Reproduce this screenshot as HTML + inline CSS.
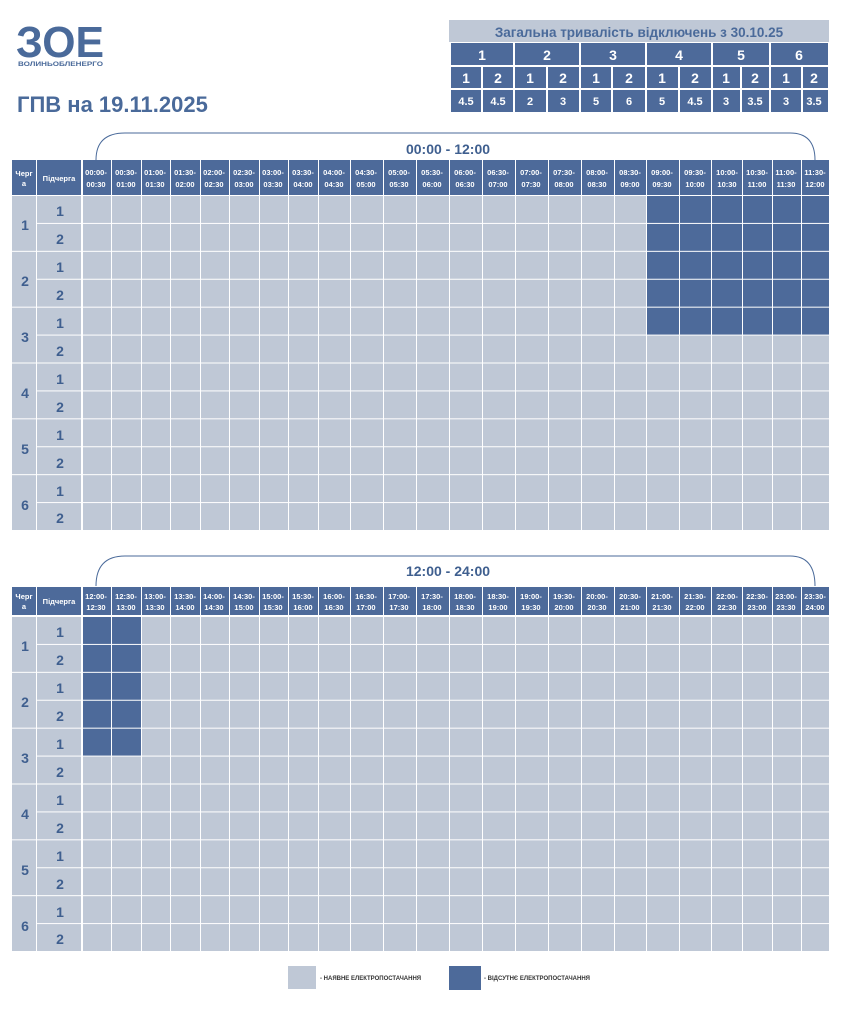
<!DOCTYPE html>
<html><head><meta charset="utf-8"><style>
html,body{margin:0;padding:0;background:#fff;width:842px;height:1024px;overflow:hidden}
svg{display:block;font-family:"Liberation Sans",sans-serif}
.h{fill:#fff;font-size:7.5px;font-weight:bold;text-anchor:middle}
.n{fill:#3f5f8f;font-size:14px;font-weight:bold;text-anchor:middle}
.s{fill:#fff;font-size:14px;font-weight:bold;text-anchor:middle}
.v{fill:#fff;font-size:11px;font-weight:bold;text-anchor:middle}
</style></head><body>
<svg id="s" width="842" height="1024" viewBox="0 0 842 1024">
<g id="r"></g>
<text x="16" y="57" font-size="44" font-weight="bold" fill="#4a6a9a" textLength="88" lengthAdjust="spacingAndGlyphs">ЗОЕ</text>
<text x="18" y="66" font-size="6" font-weight="bold" fill="#4a6a9a" textLength="85" lengthAdjust="spacingAndGlyphs">ВОЛИНЬОБЛЕНЕРГО</text>
<text x="17" y="112" font-size="22" font-weight="bold" fill="#4a6a9a">ГПВ на 19.11.2025</text>
<text x="639" y="37" font-size="13.5" font-weight="bold" fill="#4a6a9a" text-anchor="middle">Загальна тривалість відключень з 30.10.25</text>
<text class="s" x="482" y="60">1</text><text class="s" x="547" y="60">2</text><text class="s" x="613" y="60">3</text><text class="s" x="679" y="60">4</text><text class="s" x="741" y="60">5</text><text class="s" x="799" y="60">6</text>
<text class="s" x="466" y="83">1</text><text class="s" x="498" y="83">2</text><text class="s" x="530" y="83">1</text><text class="s" x="563" y="83">2</text><text class="s" x="596" y="83">1</text><text class="s" x="629" y="83">2</text><text class="s" x="662" y="83">1</text><text class="s" x="695" y="83">2</text><text class="s" x="726" y="83">1</text><text class="s" x="755" y="83">2</text><text class="s" x="786" y="83">1</text><text class="s" x="814" y="83">2</text>
<text class="v" x="466" y="105">4.5</text><text class="v" x="498" y="105">4.5</text><text class="v" x="530" y="105">2</text><text class="v" x="563" y="105">3</text><text class="v" x="596" y="105">5</text><text class="v" x="629" y="105">6</text><text class="v" x="662" y="105">5</text><text class="v" x="695" y="105">4.5</text><text class="v" x="726" y="105">3</text><text class="v" x="755" y="105">3.5</text><text class="v" x="786" y="105">3</text><text class="v" x="814" y="105">3.5</text>
<path d="M96 160 Q96 133 125 133 L790 133 Q815 133 815 160" fill="none" stroke="#4a6a9a" stroke-width="1"/>
<text x="448" y="154" font-size="14" font-weight="bold" fill="#3f5f8f" text-anchor="middle">00:00 - 12:00</text>
<path d="M96 586 Q96 556 125 556 L790 556 Q815 556 815 586" fill="none" stroke="#4a6a9a" stroke-width="1"/>
<text x="448" y="576" font-size="14" font-weight="bold" fill="#3f5f8f" text-anchor="middle">12:00 - 24:00</text>
<text class="h" x="24" y="176">Черг</text><text class="h" x="24" y="186">а</text>
<text class="h" x="59" y="181">Підчерга</text>
<g id="h1">
<text class="h" x="96" y="175">00:00-</text><text class="h" x="96" y="187">00:30</text>
<text class="h" x="126" y="175">00:30-</text><text class="h" x="126" y="187">01:00</text>
<text class="h" x="155" y="175">01:00-</text><text class="h" x="155" y="187">01:30</text>
<text class="h" x="185" y="175">01:30-</text><text class="h" x="185" y="187">02:00</text>
<text class="h" x="214" y="175">02:00-</text><text class="h" x="214" y="187">02:30</text>
<text class="h" x="244" y="175">02:30-</text><text class="h" x="244" y="187">03:00</text>
<text class="h" x="273" y="175">03:00-</text><text class="h" x="273" y="187">03:30</text>
<text class="h" x="303" y="175">03:30-</text><text class="h" x="303" y="187">04:00</text>
<text class="h" x="334" y="175">04:00-</text><text class="h" x="334" y="187">04:30</text>
<text class="h" x="366" y="175">04:30-</text><text class="h" x="366" y="187">05:00</text>
<text class="h" x="399" y="175">05:00-</text><text class="h" x="399" y="187">05:30</text>
<text class="h" x="432" y="175">05:30-</text><text class="h" x="432" y="187">06:00</text>
<text class="h" x="465" y="175">06:00-</text><text class="h" x="465" y="187">06:30</text>
<text class="h" x="498" y="175">06:30-</text><text class="h" x="498" y="187">07:00</text>
<text class="h" x="531" y="175">07:00-</text><text class="h" x="531" y="187">07:30</text>
<text class="h" x="564" y="175">07:30-</text><text class="h" x="564" y="187">08:00</text>
<text class="h" x="597" y="175">08:00-</text><text class="h" x="597" y="187">08:30</text>
<text class="h" x="630" y="175">08:30-</text><text class="h" x="630" y="187">09:00</text>
<text class="h" x="662" y="175">09:00-</text><text class="h" x="662" y="187">09:30</text>
<text class="h" x="695" y="175">09:30-</text><text class="h" x="695" y="187">10:00</text>
<text class="h" x="727" y="175">10:00-</text><text class="h" x="727" y="187">10:30</text>
<text class="h" x="757" y="175">10:30-</text><text class="h" x="757" y="187">11:00</text>
<text class="h" x="786" y="175">11:00-</text><text class="h" x="786" y="187">11:30</text>
<text class="h" x="815" y="175">11:30-</text><text class="h" x="815" y="187">12:00</text>
</g>
<text class="h" x="24" y="599">Черг</text><text class="h" x="24" y="609">а</text>
<text class="h" x="59" y="604">Підчерга</text>
<text class="h" x="96" y="599">12:00-</text><text class="h" x="96" y="610">12:30</text>
<text class="h" x="126" y="599">12:30-</text><text class="h" x="126" y="610">13:00</text>
<text class="h" x="155" y="599">13:00-</text><text class="h" x="155" y="610">13:30</text>
<text class="h" x="185" y="599">13:30-</text><text class="h" x="185" y="610">14:00</text>
<text class="h" x="214" y="599">14:00-</text><text class="h" x="214" y="610">14:30</text>
<text class="h" x="244" y="599">14:30-</text><text class="h" x="244" y="610">15:00</text>
<text class="h" x="273" y="599">15:00-</text><text class="h" x="273" y="610">15:30</text>
<text class="h" x="303" y="599">15:30-</text><text class="h" x="303" y="610">16:00</text>
<text class="h" x="334" y="599">16:00-</text><text class="h" x="334" y="610">16:30</text>
<text class="h" x="366" y="599">16:30-</text><text class="h" x="366" y="610">17:00</text>
<text class="h" x="399" y="599">17:00-</text><text class="h" x="399" y="610">17:30</text>
<text class="h" x="432" y="599">17:30-</text><text class="h" x="432" y="610">18:00</text>
<text class="h" x="465" y="599">18:00-</text><text class="h" x="465" y="610">18:30</text>
<text class="h" x="498" y="599">18:30-</text><text class="h" x="498" y="610">19:00</text>
<text class="h" x="531" y="599">19:00-</text><text class="h" x="531" y="610">19:30</text>
<text class="h" x="564" y="599">19:30-</text><text class="h" x="564" y="610">20:00</text>
<text class="h" x="597" y="599">20:00-</text><text class="h" x="597" y="610">20:30</text>
<text class="h" x="630" y="599">20:30-</text><text class="h" x="630" y="610">21:00</text>
<text class="h" x="662" y="599">21:00-</text><text class="h" x="662" y="610">21:30</text>
<text class="h" x="695" y="599">21:30-</text><text class="h" x="695" y="610">22:00</text>
<text class="h" x="727" y="599">22:00-</text><text class="h" x="727" y="610">22:30</text>
<text class="h" x="757" y="599">22:30-</text><text class="h" x="757" y="610">23:00</text>
<text class="h" x="786" y="599">23:00-</text><text class="h" x="786" y="610">23:30</text>
<text class="h" x="815" y="599">23:30-</text><text class="h" x="815" y="610">24:00</text>
<text class="n" x="25" y="230">1</text><text class="n" x="25" y="286">2</text><text class="n" x="25" y="342">3</text><text class="n" x="25" y="398">4</text><text class="n" x="25" y="454">5</text><text class="n" x="25" y="510">6</text>
<text class="n" x="60" y="216">1</text><text class="n" x="60" y="244">2</text><text class="n" x="60" y="272">1</text><text class="n" x="60" y="300">2</text><text class="n" x="60" y="328">1</text><text class="n" x="60" y="356">2</text><text class="n" x="60" y="384">1</text><text class="n" x="60" y="412">2</text><text class="n" x="60" y="440">1</text><text class="n" x="60" y="468">2</text><text class="n" x="60" y="496">1</text><text class="n" x="60" y="523">2</text>
<text class="n" x="25" y="651">1</text><text class="n" x="25" y="707">2</text><text class="n" x="25" y="763">3</text><text class="n" x="25" y="819">4</text><text class="n" x="25" y="875">5</text><text class="n" x="25" y="931">6</text>
<text class="n" x="60" y="637">1</text><text class="n" x="60" y="665">2</text><text class="n" x="60" y="693">1</text><text class="n" x="60" y="721">2</text><text class="n" x="60" y="749">1</text><text class="n" x="60" y="777">2</text><text class="n" x="60" y="805">1</text><text class="n" x="60" y="833">2</text><text class="n" x="60" y="861">1</text><text class="n" x="60" y="889">2</text><text class="n" x="60" y="917">1</text><text class="n" x="60" y="944">2</text>
<rect x="288" y="966" width="28" height="23" fill="#bfc8d6"/>
<text x="320" y="980" font-size="6" font-weight="bold" fill="#333">- НАЯВНЕ ЕЛЕКТРОПОСТАЧАННЯ</text>
<rect x="449" y="966" width="32" height="24" fill="#4d6a9a"/>
<text x="484" y="980" font-size="6" font-weight="bold" fill="#333">- ВІДСУТНЄ ЕЛЕКТРОПОСТАЧАННЯ</text>
</svg>
<script>
(function(){
var NS="http://www.w3.org/2000/svg",g=document.getElementById("r");
var D="#4d6a9a",L="#bfc8d6";
function R(x,y,w,h,c){var r=document.createElementNS(NS,"rect");r.setAttribute("x",x);r.setAttribute("y",y);r.setAttribute("width",w);r.setAttribute("height",h);r.setAttribute("fill",c);g.appendChild(r);}
R(449,20,380,93,"#fff");
R(449,20,380,22,L);
var tb=[450,514,580,646,712,770,829];
for(var i=0;i<6;i++)R(tb[i]+1,43,tb[i+1]-tb[i]-2,22,D);
var sb=[450,482,514,547,580,612,646,679,712,741,770,802,829];
for(var i=0;i<12;i++){R(sb[i]+1,67,sb[i+1]-sb[i]-2,21,D);R(sb[i]+1,90,sb[i+1]-sb[i]-2,22,D);}
var cb=[82,111,141,170,200,229,259,288,318,350,383,416,449,482,515,548,581,614,646,679,711,742,772,801,829];
function table(hy,hh,rs,darkCols){
 R(12,hy,24,hh-1,D);R(37,hy,44,hh-1,D);
 for(var c=0;c<24;c++)R(cb[c]+1,hy,cb[c+1]-cb[c]-1,hh-1,D);
 var rh=(rs[1]-rs[0])/12;
 for(var q=0;q<6;q++)R(12,rs[0]+q*2*rh+1,24,2*rh-1,L);
 for(var r=0;r<12;r++){
  var y=rs[0]+r*rh+1,h=rh-1;
  R(37,y,44,h,L);
  for(var c=0;c<24;c++){
   var dk=r<5&&darkCols.indexOf(c)>=0;
   R(cb[c]+1,y,cb[c+1]-cb[c]-1,h,dk?D:L);
  }
 }
}
table(160,36,[195,530],[18,19,20,21,22,23]);
table(587,29,[616,951],[0,1]);
})();
</script>
</body></html>
